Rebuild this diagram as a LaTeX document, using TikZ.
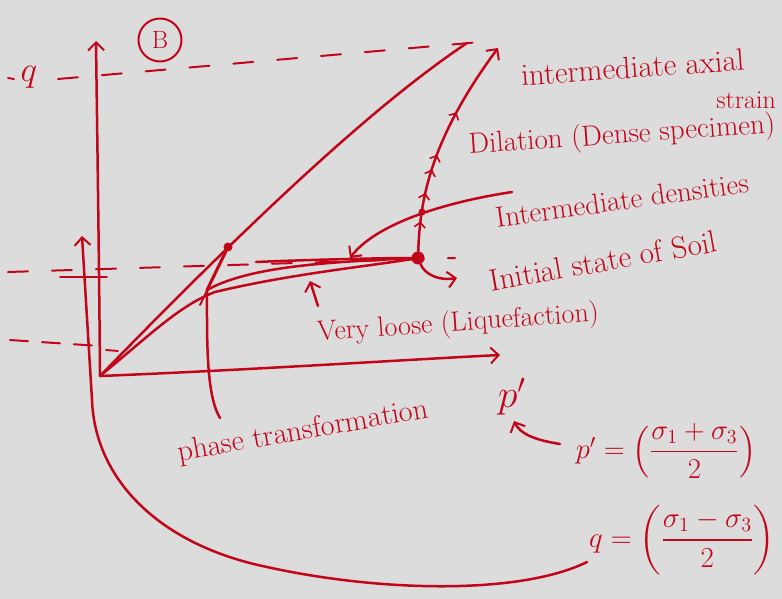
\documentclass[tikz,border=0pt]{standalone}
\usepackage{amsmath}
\usetikzlibrary{arrows.meta,decorations.markings}
\definecolor{ink}{RGB}{195,5,25}
\definecolor{bg}{RGB}{220,220,220}
\tikzset{minitip/.tip={Straight Barb[length=5pt,width=11pt,line width=1.6pt]}}
\begin{document}
\begin{tikzpicture}[x=1pt,y=-1pt,line cap=round,line join=round,
  pen/.style={draw=ink,line width=2.5pt},
  fine/.style={draw=ink,line width=1.9pt},
  tip/.style={-{Straight Barb[length=8pt,width=16pt,line width=2pt]}},
  dashline/.style={draw=ink,line width=2pt,dash pattern=on 20pt off 24pt},
  lbl/.style={text=ink,inner sep=0pt,font=\fontsize{30}{32}\selectfont},
  mathlbl/.style={text=ink,inner sep=0pt,font=\fontsize{22}{26}\selectfont},
  dotmark/.style={fill=ink,circle,inner sep=0pt}]
\fill[bg] (0,0) rectangle (782,599);
\useasboundingbox (0,0) rectangle (782,599);

% key points
\coordinate (O) at (100,376);
\coordinate (qtop) at (96,41);
\coordinate (ptip) at (500,355);
\coordinate (Ftop) at (467,43);
\coordinate (P) at (207,290);
\coordinate (Ltop) at (498,48);
\coordinate (idstart) at (512,192);
\coordinate (idtip) at (350,258);
\coordinate (vltail) at (318,306);
\coordinate (vltip) at (310,281);
\coordinate (ptend) at (220,418);
\coordinate (qlead) at (82,236);
\coordinate (pfstart) at (560,444);
\coordinate (ptarget) at (514,421);
\coordinate (qfstart) at (587,562);
\coordinate (initend) at (457,278);

\node[dotmark,minimum size=13pt] (I) at (418,258) {};
\node[dotmark,minimum size=9pt] (D) at (228,247) {};
\node[dotmark,minimum size=7pt] (X) at (422,212) {};

% labels
\node[mathlbl] (q) at (29,77) {\scalebox{1.7}{$q$}};
\node[lbl,font=\fontsize{25}{27}\selectfont,draw=ink,line width=2pt,circle,minimum size=43pt] (B) at (160,40) {B};
\node[mathlbl] (plab) at (512,397) {\scalebox{1.9}{$p'$}};
\node[lbl,anchor=west,rotate=4,font=\fontsize{31}{33}\selectfont] (ias) at (521,75) {intermediate axial};
\node[lbl,anchor=east,font=\fontsize{26}{28}\selectfont] (strain) at (776,100) {strain};
\node[lbl,rotate=4,font=\fontsize{29}{31}\selectfont] (dil) at (622,136) {Dilation (Dense specimen)};
\node[lbl,rotate=8,font=\fontsize{29}{31}\selectfont] (ideng) at (622,200) {Intermediate densities};
\node[lbl,rotate=10,font=\fontsize{31}{33}\selectfont] (init) at (603,261) {Initial state of Soil};
\node[lbl,rotate=4,font=\fontsize{28}{30}\selectfont] (vl) at (458,324) {Very loose (Liquefaction)};
\node[lbl,rotate=10] (phase) at (303,432) {phase transformation};
\node[mathlbl] (pf) at (666,451) {\scalebox{1.38}{$p'=\left(\dfrac{\sigma_1+\sigma_3}{2}\right)$}};
\node[mathlbl] (qf) at (682,540) {\scalebox{1.4}{$q=\left(\dfrac{\sigma_1-\sigma_3}{2}\right)$}};

% dashed guide lines
\draw[fine] (8,78) -- (14,79);
\draw[dashline] (58,79) -- (492,41);
\draw[dashline] (8,272) -- (455,258);
\draw[fine] (60,277) -- (107,277);
\draw[dashline,dash pattern=on 18pt off 14pt] (10,340) -- (100,346);
\draw[fine] (106,350) -- (118,351);

% axes
\draw[pen,tip] (O) .. controls (99,250) and (97,120) .. (qtop);
\draw[pen,tip] (O) .. controls (250,370) and (400,360) .. (ptip);

% failure line
\draw[pen] (O) .. controls (300,170) and (400,88) .. (Ftop);

% very loose path (liquefaction)
\draw[pen] (O) .. controls (150,335) and (180,305) .. (215,292) .. controls (290,274) and (370,266) .. (I);

% intermediate path
\draw[pen] (I) .. controls (380,258) and (300,260) .. (256,262);
\draw[pen] (I) .. controls (330,262) and (250,266) .. (P);
\draw[pen,line width=3pt] (P) -- (D);
\draw[fine] (D) -- (200,305);

% dense path (dilation) with repeated arrow marks
\draw[pen,tip,decoration={markings,
   mark=at position 0.135 with {\arrow{minitip}},
   mark=at position 0.265 with {\arrow{minitip}},
   mark=at position 0.375 with {\arrow{minitip}},
   mark=at position 0.445 with {\arrow{minitip}},
   mark=at position 0.655 with {\arrow{minitip}}},
   postaction={decorate}]
  (I) .. controls (420,200) and (430,140) .. (Ltop);

% leaders
\draw[pen,tip] (idstart) .. controls (440,203) and (375,225) .. (idtip);
\draw[pen,tip] (vltail) -- (vltip);
\draw[pen,tip] (I) .. controls (425,275) and (440,281) .. (initend);
\draw[pen] (P) .. controls (207,340) and (206,395) .. (ptend);
\draw[pen,tip] (pfstart) .. controls (535,440) and (520,434) .. (ptarget);
\draw[pen,tip] (qfstart) .. controls (520,595) and (380,592) .. (267,567)
   .. controls (160,545) and (95,480) .. (92,400) -- (qlead);
\end{tikzpicture}
\end{document}
